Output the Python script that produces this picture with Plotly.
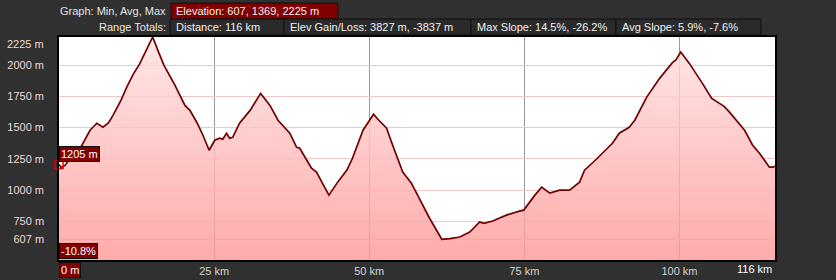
import plotly.graph_objects as go

# ---- data ----
dist_km = [0, 0.4, 1.0, 1.8, 2.8, 3.7, 5.0, 6.1, 7.1, 8.0, 8.7, 10.0, 10.9, 12.0, 13.0, 14.0, 15.1,
           16.0, 16.9, 18.7, 20.3, 21.1, 22.2, 23.2, 24.2, 25.1, 25.9, 26.4, 27.0, 27.5, 28.0,
           29.1, 30.8, 32.5, 34.0, 35.3, 37.2, 38.3, 38.8, 40.7, 41.5, 43.5, 45.0, 46.4, 47.3,
           49.0, 50.7, 51.4, 52.8, 53.6, 55.4, 56.8, 58.2, 59.7, 61.7, 63.0, 64.6, 66.2, 67.8,
           68.5, 69.9, 72.1, 74.2, 74.9, 76.7, 77.8, 79.1, 80.7, 82.3, 83.9, 84.7, 86.6, 89.2,
           90.3, 91.9, 92.8, 94.7, 96.8, 98.9, 99.4, 100.2, 101.6, 103.7, 105.2, 107.2, 108.1,
           110.5, 111.8, 112.9, 114.5, 115.0, 115.4]
elev_m = [1205, 1180, 1200, 1255, 1305, 1359, 1479, 1535, 1503, 1540, 1598, 1720, 1822, 1930, 2010, 2110, 2225,
          2110, 2000, 1838, 1678, 1638, 1543, 1439, 1319, 1399, 1415, 1407, 1455, 1415, 1423,
          1535, 1638, 1774, 1678, 1559, 1455, 1343, 1335, 1176, 1144, 960, 1070, 1160, 1255,
          1479, 1607, 1567, 1495, 1383, 1144, 1056, 920, 777, 607, 612, 625, 665, 745,
          735, 753, 800, 832, 840, 960, 1024, 976, 1000, 1000, 1064, 1160, 1247, 1375,
          1455, 1503, 1559, 1742, 1894, 2022, 2040, 2105, 2014, 1854, 1734, 1670, 1622,
          1479, 1359, 1295, 1184, 1184, 1190]

x_ticks = [25, 50, 75, 100]
x_ticktext = ["25 km", "50 km", "75 km", "100 km"]
y_ticks = [607, 750, 1000, 1250, 1500, 1750, 2000, 2225]
y_ticktext = ["607 m", "750 m", "1000 m", "1250 m", "1500 m", "1750 m", "2000 m", ""]

cursor_elev_label = "1205 m"
cursor_slope_label = "-10.8%"
cursor_dist_label = "0 m"
end_dist_label = "116 km"
top_label = "2225 m"

header_row1_label = "Graph: Min, Avg, Max"
header_row1_box = "Elevation: 607, 1369, 2225 m"
header_row2_label = "Range Totals:"
header_row2_boxes = ["Distance: 116 km", "Elev Gain/Loss: 3827 m, -3837 m",
                     "Max Slope: 14.5%, -26.2%", "Avg Slope: 5.9%, -7.6%"]

# ---- layout geometry (pixels) ----
W, H = 836, 280
L, R, T, B = 59, 61, 37, 20
PW, PH = W - L - R, H - T - B
BG = "#303030"
FONT = "Liberation Sans, Arial, sans-serif"


def px(x):
    return (x - L) / PW


def py(y):
    return (H - B - y) / PH


fig = go.Figure()
fig.add_trace(go.Scatter(
    x=dist_km, y=elev_m, mode="lines",
    line=dict(color="#700000", width=1.7),
    fill="tozeroy",
    fillgradient=dict(type="vertical", start=441, stop=2225,
                      colorscale=[[0, "rgba(255,150,150,0.8)"], [1, "rgba(255,226,226,0.8)"]]),
    hoverinfo="skip", showlegend=False,
))
fig.add_trace(go.Scatter(
    x=[dist_km[0]], y=[elev_m[0]], mode="markers",
    marker=dict(symbol="square-open", color="#e00000", size=8, line=dict(width=1.5)),
    cliponaxis=False, showlegend=False, hoverinfo="skip",
))

shapes = []
annotations = []

# header row 1
annotations.append(dict(text=header_row1_label, x=px(168), y=py(11), xref="paper", yref="paper",
                        xanchor="right", yanchor="middle", showarrow=False,
                        font=dict(family=FONT, size=11, color="#e4e4e4")))
shapes.append(dict(type="rect", xref="paper", yref="paper", x0=px(171), x1=px(338), y0=py(3), y1=py(19),
                   fillcolor="#800000", line=dict(color="#111111", width=1), layer="above"))
annotations.append(dict(text=header_row1_box, x=px(174), y=py(11), xref="paper", yref="paper",
                        xanchor="left", yanchor="middle", showarrow=False,
                        font=dict(family=FONT, size=11, color="#f0f0f0")))
# header row 2
annotations.append(dict(text=header_row2_label, x=px(168), y=py(27), xref="paper", yref="paper",
                        xanchor="right", yanchor="middle", showarrow=False,
                        font=dict(family=FONT, size=11, color="#e4e4e4")))
edges = [170, 284, 471, 616, 761]
for i, txt in enumerate(header_row2_boxes):
    shapes.append(dict(type="rect", xref="paper", yref="paper", x0=px(edges[i]), x1=px(edges[i + 1]),
                       y0=py(19), y1=py(35), fillcolor="#2a2a2a",
                       line=dict(color="#0e0e0e", width=1), layer="above"))
    annotations.append(dict(text=txt, x=px(edges[i] + 4), y=py(27), xref="paper", yref="paper",
                            xanchor="left", yanchor="middle", showarrow=False,
                            font=dict(family=FONT, size=11, color="#f0f0f0")))

# cursor labels
box = dict(bgcolor="#800000", bordercolor="#111111", borderwidth=1, borderpad=1,
           font=dict(family=FONT, size=11, color="#ffffff"), showarrow=False,
           xref="paper", yref="paper", xanchor="left", yanchor="middle")
annotations.append(dict(text=cursor_elev_label, x=0, y=py(154), **box))
annotations.append(dict(text=cursor_slope_label, x=0, y=py(251), **box))
annotations.append(dict(text=cursor_dist_label, x=0, y=py(270), **box))
annotations.append(dict(text=end_dist_label, x=px(774), y=py(269), xref="paper", yref="paper",
                        xanchor="right", yanchor="middle", showarrow=False,
                        font=dict(family=FONT, size=11, color="#ffffff")))
annotations.append(dict(text=top_label, x=px(46), y=py(44), xref="paper", yref="paper",
                        xanchor="right", yanchor="middle", showarrow=False,
                        font=dict(family=FONT, size=11, color="#f4d6d6")))

fig.update_layout(
    width=W, height=H, autosize=False,
    margin=dict(l=L, r=R, t=T, b=B, pad=0, autoexpand=False),
    paper_bgcolor=BG, plot_bgcolor="#ffffff",
    shapes=shapes, annotations=annotations,
    xaxis=dict(range=[0, 115.4], tickvals=x_ticks, ticktext=x_ticktext, automargin=False,
               showgrid=True, gridcolor="#9a9a9a", gridwidth=1, zeroline=False,
               showline=True, linecolor="#000000", linewidth=1.5, mirror=True,
               ticks="", ticklabelstandoff=0,
               tickfont=dict(family=FONT, size=11, color="#d4d4d4"), fixedrange=True),
    yaxis=dict(range=[441, 2225], tickvals=y_ticks, ticktext=y_ticktext, automargin=False,
               showgrid=True, gridcolor="#f2c6c6", gridwidth=1, zeroline=False,
               showline=True, linecolor="#000000", linewidth=1.5, mirror=True,
               ticks="", ticklabelstandoff=11,
               tickfont=dict(family=FONT, size=11, color="#f4d6d6"), fixedrange=True),
)

fig.write_html("out.html")
